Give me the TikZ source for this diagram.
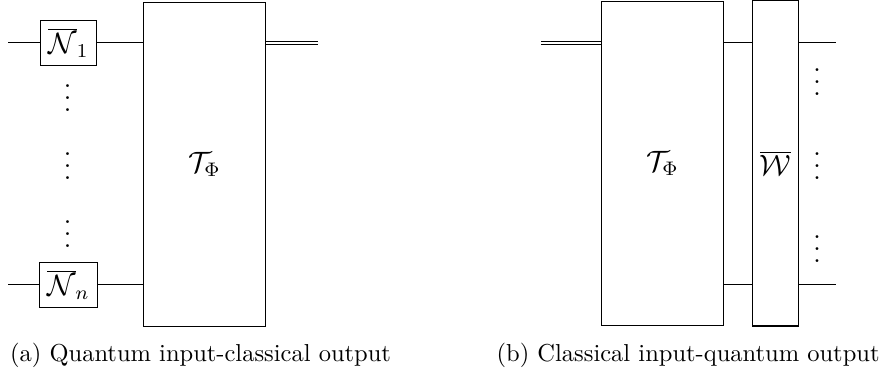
\documentclass[tikz,border=0pt]{standalone}
\newcommand\myvdots{\vbox{\baselineskip=4.9pt\lineskiplimit=0pt\lineskip=0pt\hbox{.}\hbox{.}\hbox{.}}}
\begin{document}
\begin{tikzpicture}[x=0.408pt,y=-0.408pt, line width=0.48pt,
  gate/.style={draw, inner sep=0pt, font=\large},
  dbl/.style={double, double distance=0.72pt},
  dotsn/.style={inner sep=0pt, font=\large},
  capt/.style={anchor=base west, inner sep=0pt, font=\normalsize}]
\useasboundingbox (0,0) rectangle (883,373);

% ---------- (a) ----------
\node[gate, minimum width=23pt, minimum height=18.6pt] (n1) at (68.5,42.9) {$\overline{\mathcal{N}}_1$};
\node[gate, minimum width=23.7pt, minimum height=18.4pt] (nn) at (68.3,284.8) {$\overline{\mathcal{N}}_n$};
\node[gate, minimum width=49.9pt, minimum height=132.1pt] (T1) at (204.6,164.2) {$\mathcal{T}_{\Phi}$};
\coordinate (a1) at (8,42.9);
\coordinate (an) at (8,284.8);
\coordinate (ao) at (318,42.9);
\draw (a1) -- (n1.west);
\draw (n1.east) -- (n1.east -| T1.west);
\draw (an) -- (nn.west);
\draw (nn.east) -- (nn.east -| T1.west);
\draw[dbl] (T1.east |- ao) -- (ao);
\node[dotsn] (da1) at (67.7,98.3) {\myvdots};
\node[dotsn] (da2) at (67.7,166.3) {\myvdots};
\node[dotsn] (da3) at (67.7,234.3) {\myvdots};
\node[capt] (capa) at (9.5,361.7) {(a) Quantum input-classical output};

% ---------- (b) ----------
\node[gate, minimum width=49.9pt, minimum height=132.2pt] (T2) at (662.4,163.3) {$\mathcal{T}_{\Phi}$};
\node[gate, minimum width=18.9pt, minimum height=132.8pt] (W) at (775.5,163.3) {$\overline{\mathcal{W}}$};
\coordinate (bi) at (541,42.7);
\coordinate (bo1) at (836,42.7);
\coordinate (bon) at (836,284.5);
\draw[dbl] (bi) -- (bi -| T2.west);
\draw (T2.east |- bi) -- (W.west |- bi);
\draw (T2.east |- bon) -- (W.west |- bon);
\draw (W.east |- bo1) -- (bo1);
\draw (W.east |- bon) -- (bon);
\node[dotsn] (db1) at (817,82) {\myvdots};
\node[dotsn] (db2) at (817,166) {\myvdots};
\node[dotsn] (db3) at (817,249) {\myvdots};
\node[capt] (capb) at (496,361.7) {(b) Classical input-quantum output};
\end{tikzpicture}
\end{document}
